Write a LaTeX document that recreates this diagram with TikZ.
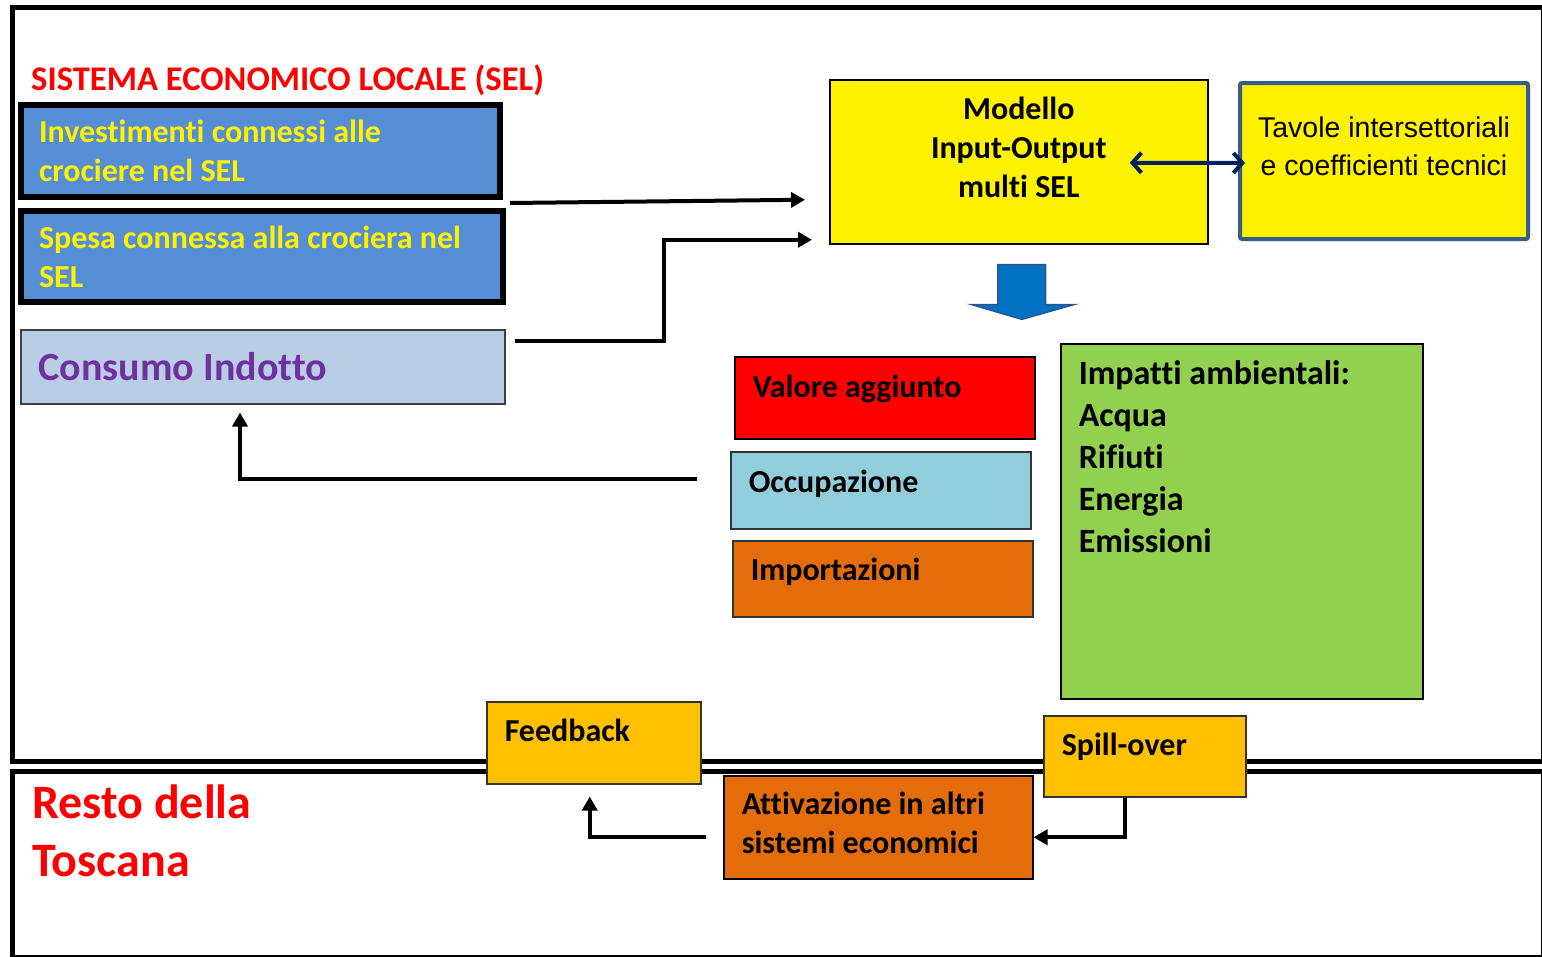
\documentclass[tikz,border=0pt]{standalone}
\usepackage{fontspec}
\setmainfont[Ligatures=NoCommon]{Carlito}
\newfontfamily\tablefont{Liberation Sans}
\usetikzlibrary{arrows.meta,calc}

\definecolor{selblue}{HTML}{558ED5}
\definecolor{indblue}{HTML}{B9CDE5}
\definecolor{indpurple}{HTML}{7030A0}
\definecolor{occblue}{HTML}{92CDDC}
\definecolor{imporange}{HTML}{E46C0A}
\definecolor{ambgreen}{HTML}{92D050}
\definecolor{feedgold}{HTML}{FFC000}
\definecolor{tavborder}{HTML}{385D8A}
\definecolor{ionavy}{HTML}{002060}
\definecolor{downblue}{HTML}{0070C0}
\definecolor{downline}{HTML}{2F528F}

% text block of fixed size inside a box: [inner pos]{width}{height}{text}
\newcommand{\inbox}[4][t]{\parbox[t][#3][#1]{#2}{#4}}

\begin{document}
\begin{tikzpicture}[
    x=1pt, y=-1pt,
    box/.style={draw=black, line width=1.5pt, anchor=north west,
                inner xsep=18pt, inner ysep=18pt,
                font=\fontsize{32}{39}\selectfont\bfseries},
    selbox/.style={box, fill=selblue, line width=6pt, text=yellow, inner ysep=0pt},
    frame/.style={draw=black, line width=5pt},
    link/.style={draw=black, line width=4pt, -{Triangle[length=14pt,width=15pt]}},
    twoway/.style={draw=ionavy, line width=4pt,
                   {Straight Barb[length=9pt,width=20pt]}-{Straight Barb[length=9pt,width=20pt]}},
  ]
  \useasboundingbox (0,0) rectangle (1542,956);
  \clip (0,0) rectangle (1542,956);
  \fill[white] (0,0) rectangle (1542,956);
  % the two areas
  \draw[frame] (12,7) rectangle (1543.5,761);
  \draw[frame] (12,771) rectangle (1543.5,957.5);
  \node[anchor=base west, inner sep=0pt, text=red,
        font=\fontsize{34.6}{40}\selectfont\bfseries] (sel) at (31,90)
        {SISTEMA ECONOMICO LOCALE (SEL)};
  \node[anchor=north west, inner sep=0pt, align=left, text=red,
        font=\fontsize{48}{58}\selectfont\bfseries] (resto) at (32,785)
        {Resto della\\Toscana};
  % demand side (left column)
  \node[selbox] (inv) at (18,102)
        {\inbox[c]{443pt}{92pt}{\raggedright Investimenti connessi alle\\crociere nel SEL}};
  \node[selbox] (spe) at (18,208)
        {\inbox[c]{446pt}{91pt}{\raggedright Spesa connessa alla crociera nel\\SEL}};
  \node[box, draw=black!75, fill=indblue, text=indpurple, inner ysep=0pt] (cons) at (20,329)
        {\inbox[c]{448pt}{74pt}{\fontsize{40}{48}\selectfont Consumo Indotto}};
  % model and tables
  \node[box, fill=yellow, inner ysep=17pt] (mod) at (829,79)
        {\inbox{342pt}{130pt}{\centering Modello\\Input-Output\\multi SEL}};
  \node[box, draw=tavborder, line width=4pt, rounded corners=2pt, fill=yellow,
        inner xsep=8pt, inner ysep=34pt] (tav) at (1238,81)
        {\inbox{272pt}{88pt}{\centering\tablefont\mdseries\fontsize{28.5}{38}\selectfont
         Tavole intersettoriali\\e coefficienti tecnici}};
  % results
  \node[box, fill=red] (val) at (734,356) {\inbox{264pt}{46pt}{Valore aggiunto}};
  \node[box, draw=black!80, fill=occblue] (occ) at (730,451) {\inbox{264pt}{41pt}{Occupazione}};
  \node[box, draw=black!80, fill=imporange, inner ysep=17pt] (imp) at (732,540)
        {\inbox{264pt}{42pt}{Importazioni}};
  \node[box, fill=ambgreen, inner ysep=17pt] (amb) at (1060,343)
        {\inbox{326pt}{321pt}{\fontsize{34}{42}\selectfont
         Impatti ambientali:\\Acqua\\Rifiuti\\Energia\\Emissioni}};
  % rest of Tuscany
  \node[box, draw=black!80, fill=feedgold, inner ysep=17pt] (feed) at (486,701)
        {\inbox{178pt}{48pt}{Feedback}};
  \node[box, draw=black!80, fill=feedgold, inner ysep=17pt] (spill) at (1043,715)
        {\inbox{166pt}{47pt}{Spill-over}};
  \node[box, fill=imporange, inner ysep=16pt] (att) at (723,775)
        {\inbox{273pt}{71pt}{Attivazione in altri\\sistemi economici}};
  % connectors
  \draw[link] ($(inv.south east)+(7,3)$) -- ($(mod.west)+(-24,38)$);
  \draw[link] ($(cons.east)+(9,-26)$) -| ($(mod.west)+(-165,78)$) -- ($(mod.west)+(-17,78)$);
  \draw[twoway] ($(mod.center)+(111,1)$) -- ($(tav.west)+(7,2)$);
  \draw[draw=downline, fill=downblue, line width=1.2pt]
        ($(mod.south)+(-21,20)$) -- ++(48,0) -- ++(0,40) -- ++(29,0)
        -- ++(-53,15) -- ++(-51,-15) -- ++(27,0) -- cycle;
  \draw[link] ($(occ.west)+(-33,-11)$) -| ($(cons.south west)+(220,8)$);
  \draw[link] ($(spill.south)+(-20,0)$) |- ($(att.east)+(0,10)$);
  \draw[link] ($(att.west)+(-17,10)$) -| ($(feed.south)+(-4,12)$);
\end{tikzpicture}
\end{document}
